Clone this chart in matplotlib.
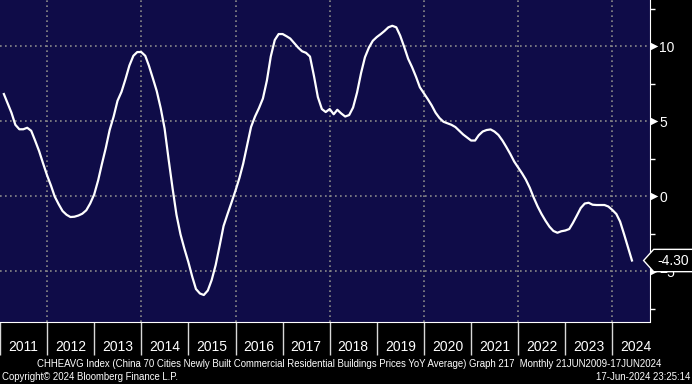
import matplotlib
matplotlib.use("Agg")
import matplotlib.pyplot as plt
import matplotlib.dates as mdates
import matplotlib.transforms as mtransforms
from matplotlib.ticker import MultipleLocator, NullFormatter
from matplotlib.path import Path
import datetime as dt
import pandas as pd

# China 70 cities new commercial residential buildings prices, YoY average (%)
first_month = "2011-01-31"
yoy_2011 = [6.8, 6.2, 5.55, 4.75, 4.45, 4.45, 4.55, 4.35, 3.7, 3.0, 2.2, 1.4]
yoy_2012 = [0.7, -0.03, -0.55, -1.0, -1.25, -1.4, -1.38, -1.3, -1.18, -0.95, -0.5, 0.1]
yoy_2013 = [1.05, 2.1, 3.2, 4.4, 5.3, 6.35, 6.95, 7.8, 8.7, 9.35, 9.6, 9.6]
yoy_2014 = [9.35, 8.7, 7.85, 7.0, 5.85, 4.5, 2.45, 0.5, -1.25, -2.55, -3.5, -4.4]
yoy_2015 = [-5.4, -6.2, -6.5, -6.6, -6.3, -5.6, -4.6, -3.3, -2.0, -1.2, -0.45, 0.35]
yoy_2016 = [1.2, 2.15, 3.4, 4.6, 5.3, 5.85, 6.5, 7.7, 9.3, 10.4, 10.8, 10.8]
yoy_2017 = [10.65, 10.5, 10.2, 9.9, 9.65, 9.55, 9.3, 8.0, 6.6, 5.8, 5.6, 5.8]
yoy_2018 = [5.45, 5.75, 5.5, 5.3, 5.4, 5.9, 6.9, 8.2, 9.25, 9.9, 10.35, 10.6]
yoy_2019 = [10.8, 11.0, 11.25, 11.35, 11.25, 10.7, 9.95, 9.15, 8.6, 7.95, 7.25, 6.85]
yoy_2020 = [6.45, 6.05, 5.55, 5.2, 4.95, 4.85, 4.75, 4.6, 4.35, 4.1, 3.9, 3.7]
yoy_2021 = [3.7, 4.05, 4.3, 4.4, 4.44, 4.3, 4.07, 3.7, 3.27, 2.8, 2.3, 1.9]
yoy_2022 = [1.5, 1.1, 0.55, -0.1, -0.7, -1.2, -1.65, -2.05, -2.33, -2.45, -2.35, -2.3]
yoy_2023 = [-2.2, -1.8, -1.3, -0.8, -0.5, -0.45, -0.58, -0.6, -0.6, -0.6, -0.7, -0.93]
yoy_2024 = [-1.2, -1.7, -2.55, -3.4, -4.3]
last_label = "-4.30"

years = list(range(2011, 2025))
grid_years = [2012, 2014, 2016, 2018, 2020, 2022, 2024]
y_ticks = [-5, 0, 5, 10]

values = (yoy_2011 + yoy_2012 + yoy_2013 + yoy_2014 + yoy_2015 + yoy_2016 + yoy_2017
          + yoy_2018 + yoy_2019 + yoy_2020 + yoy_2021 + yoy_2022 + yoy_2023 + yoy_2024)
dates = pd.date_range(first_month, periods=len(values), freq="ME")

plt.rcParams["font.family"] = ["Liberation Sans", "DejaVu Sans"]

bg = "#0f0c48"
grid_col = "#8a8a8a"

fig = plt.figure(figsize=(6.92, 3.84), dpi=100, facecolor="black")
ax = fig.add_axes([0, 62 / 384, 649.5 / 692, 322 / 384])
ax.set_facecolor(bg)

ax.plot(dates, values, color="white", lw=1.6, zorder=3)

ax.set_xlim(dt.date(2011, 1, 1), dt.date(2024, 10, 14))
ax.set_ylim(-8.4, 13.07)

# grid
ax.yaxis.set_major_locator(MultipleLocator(5))
ax.yaxis.set_minor_locator(MultipleLocator(2.5))
ax.grid(axis="y", which="major", color=grid_col, ls=(0, (1, 2)), lw=1.2)
for yr in grid_years:
    ax.axvline(dt.date(yr, 1, 1), color=grid_col, ls=(0, (1, 2)), lw=1.2, zorder=1)

# spines
for s in ["top", "left"]:
    ax.spines[s].set_visible(False)
ax.spines["right"].set_color("white")
ax.spines["bottom"].set_color("white")

# x axis: separators at year starts, labels in the middle of each year
ax.xaxis.set_major_locator(mdates.YearLocator())
ax.xaxis.set_major_formatter(NullFormatter())
ax.xaxis.set_minor_locator(mdates.MonthLocator(bymonth=7))
ax.xaxis.set_minor_formatter(mdates.DateFormatter("%Y"))
ax.tick_params(axis="x", which="major", length=24, width=1, color="#d8d8d8", direction="out")
ax.tick_params(axis="x", which="minor", length=0, pad=13, labelsize=10, labelcolor="white")

# y axis on the right
ax.yaxis.tick_right()
ax.set_yticks(y_ticks)
ax.tick_params(axis="y", which="major", length=0, pad=7, labelsize=10, labelcolor="white")
ax.tick_params(axis="y", which="minor", length=3.5, width=1, color="white")

trans = mtransforms.blended_transform_factory(ax.transAxes, ax.transData)
ax.scatter([1.0 + 4 / 649.5] * len(y_ticks), y_ticks, marker=">", s=30, color="white",
           transform=trans, clip_on=False, zorder=5, linewidths=0)


def pointer_box(x0, y0, width, height, mutation_size):
    pad = 0.3 * mutation_size
    x0, y0 = x0 - pad, y0 - pad
    x1, y1 = x0 + width + 2 * pad + 20, y0 + height + 2 * pad
    tip = 0.45 * (y1 - y0)
    verts = [(x0, y0), (x1, y0), (x1, y1), (x0, y1), (x0 - tip, (y0 + y1) / 2), (x0, y0)]
    return Path(verts, closed=True)


ax.annotate(last_label, xy=(1, values[-1]), xycoords=trans, xytext=(6, 0),
            textcoords="offset points", ha="left", va="center", color="white",
            fontsize=10, annotation_clip=False, zorder=10,
            bbox=dict(boxstyle=pointer_box, fc="black", ec="white", lw=1))

fig.text(37 / 692, 1 - 364 / 384,
         "CHHEAVG Index (China 70 Cities Newly Built Commercial Residential Buildings Prices YoY Average) Graph 217  Monthly 21JUN2009-17JUN2024",
         color="white", fontsize=6.9, va="center", ha="left")
fig.text(2 / 692, 1 - 377 / 384, "Copyright\u00a9 2024 Bloomberg Finance L.P.",
         color="white", fontsize=6.9, va="center", ha="left")
fig.text(690 / 692, 1 - 377 / 384, "17-Jun-2024 23:25:14",
         color="white", fontsize=6.9, va="center", ha="right")

fig.savefig("out.png", dpi=100, facecolor="black")
